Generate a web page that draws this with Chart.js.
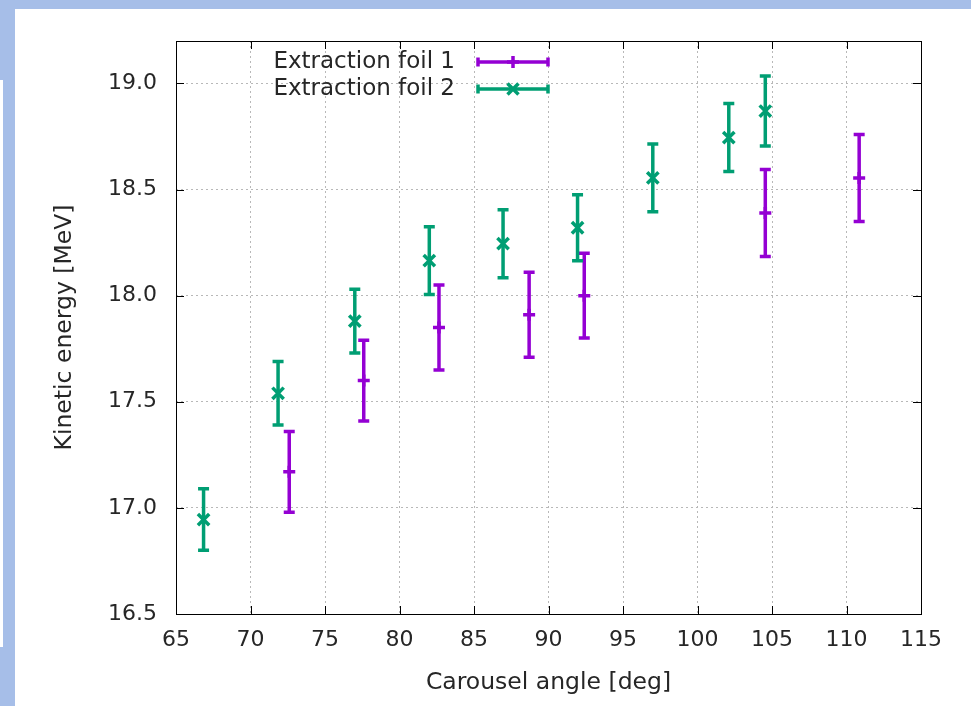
<!DOCTYPE html>
<html>
<head>
<meta charset="utf-8">
<script src="https://cdn.jsdelivr.net/npm/chart.js@4"></script>
<style>
  body { margin: 0; background: #a6bee8; width: 971px; height: 706px; overflow: hidden; position: relative; }
  #panel { position: absolute; left: 15px; top: 9px; right: 0; bottom: 0; background: #fff; }
  #strip { position: absolute; left: 0; top: 80px; width: 3px; height: 567px; background: #fff; }
  #wrap { position: absolute; left: 0; top: 0; width: 971px; height: 706px; }
</style>
</head>
<body>
<div id="panel"></div>
<div id="strip"></div>
<div id="wrap"><canvas id="energyChart" width="971" height="706"></canvas></div>
<script>
// extraction foil 1 (purple)
const foil1Angle  = [72.6, 77.6, 82.65, 88.7, 92.4, 104.55, 110.85];
const foil1Energy = [17.17, 17.60, 17.85, 17.91, 18.00, 18.39, 18.555];
const foil1Error  = [0.19, 0.19, 0.20, 0.20, 0.20, 0.205, 0.205];

// extraction foil 2 (green)
const foil2Angle  = [66.85, 71.85, 77.0, 82.0, 86.95, 91.95, 97.0, 102.1, 104.55];
const foil2Energy = [16.945, 17.54, 17.88, 18.165, 18.245, 18.32, 18.555, 18.745, 18.87];
const foil2Error  = [0.145, 0.15, 0.15, 0.16, 0.16, 0.155, 0.16, 0.16, 0.165];

const xTicks = [65, 70, 75, 80, 85, 90, 95, 100, 105, 110, 115];
const yTicks = [16.5, 17.0, 17.5, 18.0, 18.5, 19.0];

const seriesNames = ['Extraction foil 1', 'Extraction foil 2'];
const purple = '#9400d3';
const green = '#009e73';
const textColor = '#262626';
const fontFam = "'DejaVu Sans', sans-serif";

const toPoints = (xs, ys) => xs.map((x, i) => ({x: x, y: ys[i]}));

function drawMarker(ctx, style, x, y) {
  ctx.beginPath();
  if (style === 'cross') {
    ctx.moveTo(x - 6, y); ctx.lineTo(x + 6, y);
    ctx.moveTo(x, y - 6); ctx.lineTo(x, y + 6);
  } else {
    ctx.moveTo(x - 5.5, y - 5.5); ctx.lineTo(x + 5.5, y + 5.5);
    ctx.moveTo(x - 5.5, y + 5.5); ctx.lineTo(x + 5.5, y - 5.5);
  }
  ctx.stroke();
}

const errorBars = {
  id: 'errorBars',
  beforeDatasetsDraw(chart) {
    const ctx = chart.ctx;
    const xs = chart.scales.x, ys = chart.scales.y;
    ctx.save();
    ctx.lineWidth = 3.5;
    chart.data.datasets.forEach(ds => {
      ctx.strokeStyle = ds.borderColor;
      ds.data.forEach((p, i) => {
        const px = xs.getPixelForValue(p.x);
        const top = ys.getPixelForValue(p.y + ds.errors[i]);
        const bot = ys.getPixelForValue(p.y - ds.errors[i]);
        ctx.beginPath();
        ctx.moveTo(px, top); ctx.lineTo(px, bot);
        ctx.moveTo(px - 5.5, top); ctx.lineTo(px + 5.5, top);
        ctx.moveTo(px - 5.5, bot); ctx.lineTo(px + 5.5, bot);
        ctx.stroke();
      });
    });
    ctx.restore();
  },
  afterDraw(chart) {
    const ctx = chart.ctx;
    const a = chart.chartArea;
    const xs = chart.scales.x, ys = chart.scales.y;
    ctx.save();
    // frame + inward ticks on every side
    ctx.strokeStyle = '#000';
    ctx.lineWidth = 1;
    ctx.strokeRect(a.left + 0.5, a.top + 0.5, a.right - a.left, a.bottom - a.top);
    ctx.beginPath();
    xTicks.forEach(v => {
      const px = Math.round(xs.getPixelForValue(v)) + 0.5;
      ctx.moveTo(px, a.bottom); ctx.lineTo(px, a.bottom - 8);
      ctx.moveTo(px, a.top); ctx.lineTo(px, a.top + 8);
    });
    yTicks.forEach(v => {
      const py = Math.round(ys.getPixelForValue(v)) + 0.5;
      ctx.moveTo(a.left, py); ctx.lineTo(a.left + 8, py);
      ctx.moveTo(a.right, py); ctx.lineTo(a.right - 8, py);
    });
    ctx.stroke();

    // key, gnuplot style
    ctx.font = '23px ' + fontFam;
    ctx.textAlign = 'right';
    ctx.textBaseline = 'middle';
    chart.data.datasets.forEach((ds, i) => {
      const y = 62 + i * 27;
      ctx.fillStyle = textColor;
      ctx.fillText(ds.label, 455, y);
      ctx.strokeStyle = ds.borderColor;
      ctx.lineWidth = 3.5;
      ctx.beginPath();
      ctx.moveTo(478, y); ctx.lineTo(548, y);
      ctx.moveTo(478, y - 4.5); ctx.lineTo(478, y + 4.5);
      ctx.moveTo(548, y - 4.5); ctx.lineTo(548, y + 4.5);
      ctx.stroke();
      drawMarker(ctx, ds.pointStyle, 513, y);
    });
    ctx.restore();
  }
};

const energyData = {
  datasets: [{
    label: seriesNames[0],
    data: toPoints(foil1Angle, foil1Energy),
    errors: foil1Error,
    borderColor: purple,
    backgroundColor: purple,
    pointStyle: 'cross',
    pointRadius: 6,
    pointBorderWidth: 3.5,
    showLine: false
  }, {
    label: seriesNames[1],
    data: toPoints(foil2Angle, foil2Energy),
    errors: foil2Error,
    borderColor: green,
    backgroundColor: green,
    pointStyle: 'crossRot',
    pointRadius: 8,
    pointBorderWidth: 3.5,
    showLine: false
  }]
};

const gridOpts = { color: '#b8b8b8', lineWidth: 1, drawTicks: false };

const energyOptions = {
  responsive: false,
  animation: false,
  layout: { padding: { top: 41, right: 50, left: 0, bottom: 0 } },
  plugins: { legend: { display: false }, tooltip: { enabled: false } },
  scales: {
    x: {
      type: 'linear',
      min: 65, max: 115,
      afterBuildTicks: s => { s.ticks = xTicks.map(v => ({value: v})); },
      afterFit: s => { s.height = 92; },
      grid: gridOpts,
      border: { display: false, dash: [2, 3] },
      ticks: { color: textColor, font: { family: fontFam, size: 22 }, padding: 13 },
      title: { display: true, text: 'Carousel angle [deg]', color: textColor,
               font: { family: fontFam, size: 23.5 }, padding: { top: 0, bottom: 9 } }
    },
    y: {
      type: 'linear',
      min: 16.5, max: 19.2,
      afterBuildTicks: s => { s.ticks = yTicks.map(v => ({value: v})); },
      afterFit: s => { s.width = 176; },
      grid: gridOpts,
      border: { display: false, dash: [2, 3] },
      ticks: { color: textColor, font: { family: fontFam, size: 22 }, padding: 19,
               callback: v => v.toFixed(1) },
      title: { display: true, text: 'Kinetic energy [MeV]', color: textColor,
               font: { family: fontFam, size: 23.5 }, padding: { top: 51, bottom: 0 } }
    }
  }
};

new Chart(document.getElementById('energyChart'), {
  type: 'scatter',
  data: energyData,
  options: energyOptions,
  plugins: [errorBars]
});
</script>
</body>
</html>
